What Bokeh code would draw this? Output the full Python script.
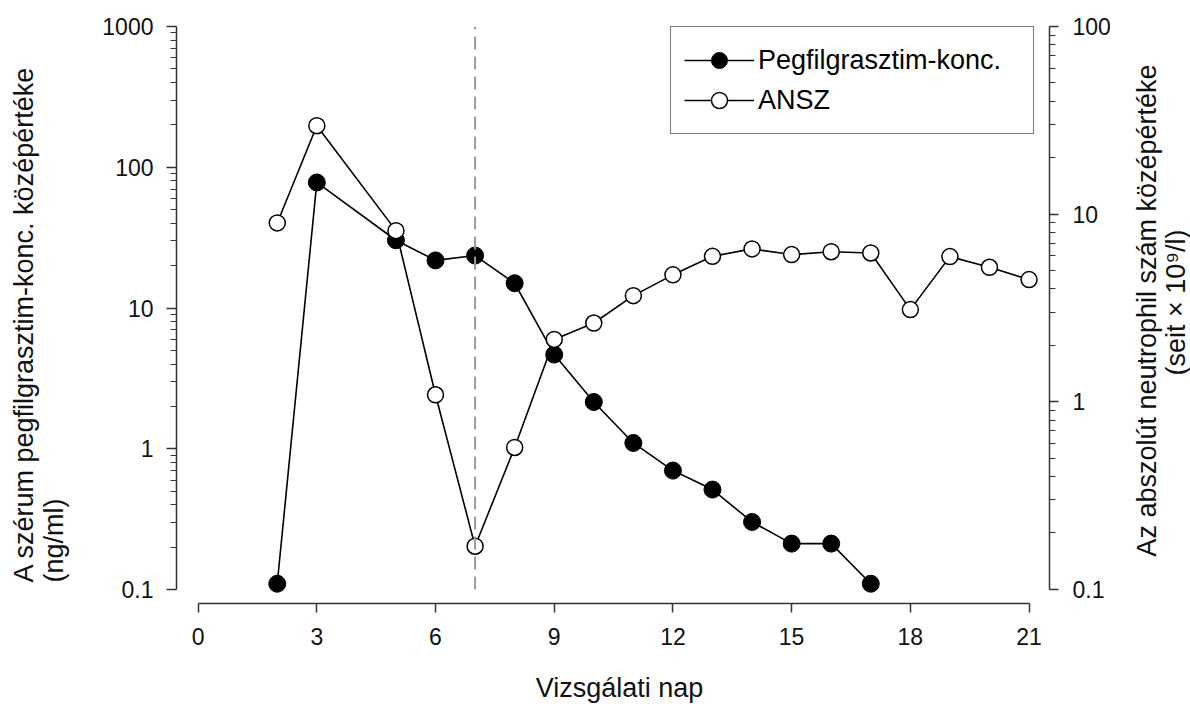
import math
from bokeh.plotting import figure
from bokeh.layouts import row, column
from bokeh.models import (Range1d, LogScale, LogAxis, FixedTicker, NumeralTickFormatter,
                          Legend, LegendItem)
from bokeh.core.properties import value
from bokeh.embed import file_html
from bokeh.resources import INLINE

# ---- data ----
days_peg = [2, 3, 5, 6, 7, 8, 9, 10, 11, 12, 13, 14, 15, 16, 17]
peg_conc = [0.11, 78, 30.3, 21.8, 23.6, 15.0, 4.67, 2.15, 1.10, 0.70, 0.513, 0.302, 0.212, 0.212, 0.11]

days_ansz = [2, 3, 5, 6, 7, 8, 9, 10, 11, 12, 13, 14, 15, 16, 17, 18, 19, 20, 21]
ansz_vals = [8.98, 29.6, 8.17, 1.09, 0.170, 0.571, 2.15, 2.63, 3.68, 4.75, 5.96, 6.53, 6.09, 6.31, 6.21,
             3.10, 5.94, 5.21, 4.48]

ref_day = 7
x_ticks = [0, 3, 6, 9, 12, 15, 18, 21]
left_ticks = [0.1, 1, 10, 100, 1000]
right_ticks = [0.1, 1, 10, 100]
left_minor = [m * 10 ** e for e in range(-1, 3) for m in range(2, 10)]
right_minor = [m * 10 ** e for e in range(-1, 2) for m in range(2, 10)]

label_left = ["A szérum pegfilgrasztim-konc. középértéke", "(ng/ml)"]
label_right = ["Az abszolút neutrophil szám középértéke", "(seit × 10⁹/l)"]
label_bottom = "Vizsgálati nap"
legend_labels = ["Pegfilgrasztim-konc.", "ANSZ"]

FONT = "Liberation Sans"
AXIS_COLOR = "#333333"
LABEL_SIZE = "27px"
TEXT_COLOR = "#111111"

# ---- page layout (pixels) ----
W, H = 1190, 704
LEFT_W, RIGHT_W, BOTTOM_H = 72, 70, 34
MAIN_W, MAIN_H = W - LEFT_W - RIGHT_W, H - BOTTOM_H
FRAME_L, FRAME_R, FRAME_T, FRAME_B = 176, 1049, 26, 603


def label_fig(w, h, top=0, bottom=0):
    f = figure(width=w, height=h, x_range=Range1d(0, w), y_range=Range1d(0, h - top - bottom),
               output_backend="svg", toolbar_location=None,
               x_axis_location=None, y_axis_location=None,
               min_border_left=0, min_border_right=0, min_border_top=top, min_border_bottom=bottom)
    f.outline_line_color = None
    f.xgrid.visible = False
    f.ygrid.visible = False
    f.background_fill_color = "white"
    f.border_fill_color = "white"
    return f


p = figure(width=MAIN_W, height=MAIN_H,
           x_range=Range1d(-0.546, 21.517), y_range=Range1d(0.0796, 1000),
           y_axis_type="log", output_backend="svg", toolbar_location=None,
           min_border_left=FRAME_L - LEFT_W, min_border_right=LEFT_W + MAIN_W - FRAME_R,
           min_border_top=FRAME_T, min_border_bottom=MAIN_H - FRAME_B)
p.outline_line_color = None
p.xgrid.visible = False
p.ygrid.visible = False
p.background_fill_color = "white"
p.border_fill_color = "white"

p.extra_y_ranges = {"ansz": Range1d(0.0842, 100)}
p.extra_y_scales = {"ansz": LogScale()}


def style_axis(ax):
    ax.axis_line_color = AXIS_COLOR
    ax.axis_line_width = 1.5
    ax.major_tick_line_color = AXIS_COLOR
    ax.major_tick_line_width = 1.5
    ax.minor_tick_line_color = AXIS_COLOR
    ax.minor_tick_line_width = 1.2
    ax.major_tick_in = 0
    ax.minor_tick_in = 0
    ax.major_label_text_font = FONT
    ax.major_label_text_font_size = "23px"
    ax.major_label_text_color = TEXT_COLOR


xa = p.xaxis[0]
style_axis(xa)
xa.ticker = FixedTicker(ticks=x_ticks)
xa.bounds = (0, 21)
xa.major_tick_out = 9
xa.minor_tick_out = 0
xa.major_label_standoff = 15

ya = p.yaxis[0]
style_axis(ya)
ya.ticker = FixedTicker(ticks=left_ticks, minor_ticks=left_minor)
ya.formatter = NumeralTickFormatter(format="0.[0]")
ya.bounds = (0.1, 1000)
ya.major_tick_out = 10
ya.minor_tick_out = 6
ya.major_label_standoff = 13

ra = LogAxis(y_range_name="ansz", ticker=FixedTicker(ticks=right_ticks, minor_ticks=right_minor),
             formatter=NumeralTickFormatter(format="0.[0]"), bounds=(0.1, 100))
style_axis(ra)
ra.major_tick_out = 9
ra.minor_tick_out = 6
ra.major_label_standoff = 14
p.add_layout(ra, "right")

# ---- series ----
peg_line = p.line(days_peg, peg_conc, line_color="black", line_width=1.6)
peg_pts = p.scatter(days_peg, peg_conc, marker="circle", size=17,
                    fill_color="black", line_color="black", line_width=1)
ansz_line = p.line(days_ansz, ansz_vals, y_range_name="ansz", line_color="black", line_width=1.6)
ansz_pts = p.scatter(days_ansz, ansz_vals, y_range_name="ansz", marker="circle", size=16,
                     fill_color="white", line_color="black", line_width=1.5)

p.line([ref_day, ref_day], [left_ticks[0], left_ticks[-1]], line_color="#9a9a9a",
       line_width=2, line_dash="13 7")

legend = Legend(items=[LegendItem(label=legend_labels[0], renderers=[peg_line, peg_pts]),
                       LegendItem(label=legend_labels[1], renderers=[ansz_line, ansz_pts])],
                location=(494, 469), border_line_color="black", border_line_width=1.5,
                background_fill_color="white", background_fill_alpha=1.0,
                padding=13, spacing=0, glyph_width=70, glyph_height=40,
                label_standoff=4, label_width=262, label_height=30, margin=0,
                label_text_font=FONT, label_text_font_size=LABEL_SIZE, label_text_color="black")
p.add_layout(legend)

txt_kw = dict(text_font=value(FONT), text_font_size=value(LABEL_SIZE), text_color=TEXT_COLOR)

# side title panels share the main frame's vertical extent: data y = FRAME_B - page y
side_top, side_bottom = FRAME_T, MAIN_H - FRAME_B

# left axis title (two lines, reading upwards, starting at the same height)
lf = label_fig(LEFT_W, MAIN_H, side_top, side_bottom)
lf.text(x=[23, 53], y=[FRAME_B - 582, FRAME_B - 582], text=label_left, angle=math.pi / 2,
        text_align="left", text_baseline="middle", **txt_kw)

# right axis title (two centred lines, reading upwards)
rf = label_fig(RIGHT_W, MAIN_H, side_top, side_bottom)
rf.text(x=[1146 - (W - RIGHT_W), 1175 - (W - RIGHT_W)], y=[FRAME_B - 310, FRAME_B - 302],
        text=label_right, angle=math.pi / 2,
        text_align="center", text_baseline="middle", **txt_kw)

# x axis title
bf = label_fig(W, BOTTOM_H)
bf.text(x=[619], y=[17], text=[label_bottom], text_align="center",
        text_baseline="alphabetic", **txt_kw)

layout = column(row(lf, p, rf, spacing=0), bf, spacing=0)

open("out.html", "w").write(file_html(layout, INLINE))
